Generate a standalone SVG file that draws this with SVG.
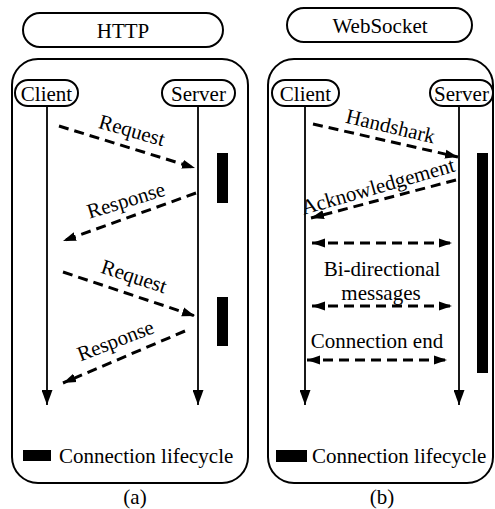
<svg xmlns="http://www.w3.org/2000/svg" width="495" height="509" viewBox="0 0 495 509">
<style>
text{font-family:"Liberation Serif","Times New Roman",serif;font-size:21px;fill:#000}
.c{text-anchor:middle}
.box{fill:none;stroke:#000;stroke-width:2}
.life{stroke:#000;stroke-width:1.8;fill:none}
.msg{stroke:#000;stroke-width:3;stroke-dasharray:10 6;fill:none}
.bar{fill:#000}
</style>
<defs>
<marker id="ah" markerUnits="userSpaceOnUse" markerWidth="14" markerHeight="10" refX="13" refY="5" orient="auto-start-reverse"><path d="M0,0.5 L13,5 L0,9.5 z" fill="#000"/></marker>
<marker id="lh" markerUnits="userSpaceOnUse" markerWidth="11" markerHeight="16" refX="5.5" refY="15" orient="0"><path d="M0,0 L11,0 L5.5,15 z" fill="#000"/></marker>
</defs>
<g id="http-title"><rect class="box" x="23" y="13" width="200" height="34" rx="17"/><text class="c" x="123" y="38">HTTP</text></g>
<g id="ws-title"><rect class="box" x="287" y="8" width="185" height="34" rx="17"/><text class="c" x="380" y="33">WebSocket</text></g>
<g id="panel-a"><rect class="box" x="12" y="59" width="236" height="424" rx="26"/></g>
<g id="panel-b"><rect class="box" x="268" y="59" width="225" height="424" rx="26"/></g>
<g id="client-a"><rect class="box" x="15" y="80" width="63" height="26" rx="13"/><text class="c" x="46.5" y="101">Client</text></g>
<g id="server-a"><rect class="box" x="162" y="80" width="73" height="26" rx="13"/><text class="c" x="198.5" y="101">Server</text></g>
<g id="client-b"><rect class="box" x="272" y="80" width="67" height="26" rx="13"/><text class="c" x="305.5" y="101">Client</text></g>
<g id="server-b"><rect class="box" x="430" y="80" width="63" height="26" rx="13"/><text class="c" x="461.5" y="101">Server</text></g>
<g id="lifelines">
<line class="life" x1="47" y1="106" x2="47" y2="405" marker-end="url(#lh)"/>
<line class="life" x1="198" y1="106" x2="198" y2="405" marker-end="url(#lh)"/>
<line class="life" x1="305" y1="106" x2="305" y2="405" marker-end="url(#lh)"/>
<line class="life" x1="459" y1="106" x2="459" y2="405" marker-end="url(#lh)"/>
</g>
<g id="lifecycle-bars">
<rect class="bar" x="217" y="153" width="11" height="50"/>
<rect class="bar" x="217" y="297" width="11" height="49"/>
<rect class="bar" x="477" y="153" width="11" height="220"/>
</g>
<g id="connectors">
<line class="msg" x1="59" y1="126" x2="195" y2="168" marker-end="url(#ah)"/>
<line class="msg" x1="196" y1="193" x2="63" y2="241" marker-end="url(#ah)"/>
<line class="msg" x1="63" y1="272" x2="195" y2="316" marker-end="url(#ah)"/>
<line class="msg" x1="185" y1="331" x2="63" y2="383" marker-end="url(#ah)"/>
<line class="msg" x1="313" y1="124" x2="458" y2="157" marker-end="url(#ah)"/>
<line class="msg" x1="456" y1="180" x2="311" y2="218" marker-end="url(#ah)"/>
<line class="msg" x1="312" y1="243" x2="452" y2="243" marker-start="url(#ah)" marker-end="url(#ah)"/>
<line class="msg" x1="312" y1="306" x2="452" y2="306" marker-start="url(#ah)" marker-end="url(#ah)"/>
<line class="msg" x1="307" y1="360" x2="447" y2="360" marker-start="url(#ah)" marker-end="url(#ah)"/>
</g>
<g id="labels">
<text class="c" transform="translate(130,137) rotate(16)">Request</text>
<text class="c" transform="translate(128,207) rotate(-17)">Response</text>
<text class="c" transform="translate(132,283) rotate(18)">Request</text>
<text class="c" transform="translate(118,347) rotate(-21)">Response</text>
<text class="c" transform="translate(389,133) rotate(13.4)">Handshark</text>
<text class="c" transform="translate(380,193) rotate(-16)">Acknowledgement</text>
<text class="c" x="382" y="276">Bi-directional</text>
<text class="c" x="381" y="300">messages</text>
<text class="c" x="377" y="348">Connection end</text>
</g>
<g id="legend-a"><rect class="bar" x="23" y="450" width="28" height="11"/><text x="59" y="463">Connection lifecycle</text></g>
<g id="legend-b"><rect class="bar" x="276" y="450" width="31" height="12"/><text x="312" y="463">Connection lifecycle</text></g>
<text class="c" x="135" y="504">(a)</text>
<text class="c" x="382" y="504">(b)</text>
</svg>
